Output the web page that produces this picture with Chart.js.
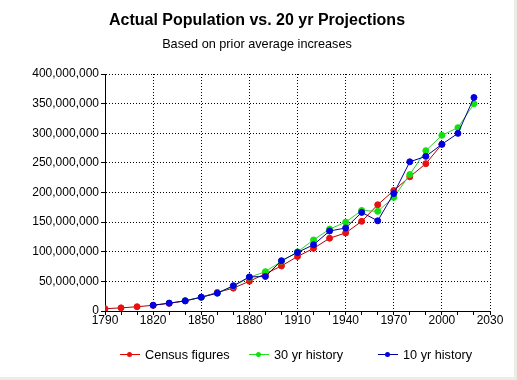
<!DOCTYPE html>
<html>
<head>
<meta charset="utf-8">
<script src="https://cdn.jsdelivr.net/npm/chart.js@4.4.1/dist/chart.umd.min.js"></script>
<style>
html,body{margin:0;padding:0;background:#ecebe4;}
canvas{display:block;background:#ffffff;}
</style>
</head>
<body>
<canvas id="c" width="514" height="377"></canvas>
<script>
// Data (population in millions)
const years = [1790,1800,1810,1820,1830,1840,1850,1860,1870,1880,1890,1900,1910,1920,1930,1940,1950,1960,1970,1980,1990,2000,2010,2020];
const censusFigures = [3.9,5.3,7.2,9.6,12.9,17.1,23.2,31.4,38.6,50.2,62.9,76.0,92.0,105.7,122.8,131.7,151.3,179.3,203.3,226.5,248.7,281.4,null,null];
const history30yr = [null,null,null,null,null,17.5,23.3,30.4,41.8,56.8,66.4,84.0,99.9,119.9,138.2,150.0,169.7,168.2,191.8,230.3,270.6,296.5,309.4,349.8];
const history10yr = [null,null,null,9.8,13.3,17.1,23.3,30.0,42.7,57.5,58.3,84.9,98.8,111.8,135.0,140.1,166.4,152.2,198.2,251.8,261.0,281.4,299.8,360.3];
const seriesNames = ['Census figures','30 yr history','10 yr history'];
const xLabelYears = [1790,1820,1850,1880,1910,1940,1970,2000,2030];
const yTickValues = [0,50,100,150,200,250,300,350,400];

const FONT = '"Liberation Sans", Arial, sans-serif';
Chart.defaults.color = '#000';
Chart.defaults.font.family = FONT;

function pts(arr){ return years.map((y,i)=>({x:y,y:arr[i]})).filter(p=>p.y!==null); }

const customLegend = {
  id:'customLegend',
  afterDraw(chart){
    const ctx = chart.ctx;
    const xs = [120,249,378];
    const y = 354.5;
    chart.data.datasets.forEach((ds,i)=>{
      ctx.save();
      ctx.strokeStyle = ds.legendLine;
      ctx.lineWidth = 1;
      ctx.beginPath(); ctx.moveTo(xs[i], y); ctx.lineTo(xs[i]+20, y); ctx.stroke();
      ctx.fillStyle = ds.pointBackgroundColor;
      ctx.beginPath(); ctx.arc(xs[i]+9.5, y, 2.5, 0, Math.PI*2); ctx.fill();
      ctx.fillStyle = '#000';
      ctx.font = '12.7px ' + FONT;
      ctx.textBaseline = 'middle';
      ctx.textAlign = 'left';
      ctx.fillText(ds.label, xs[i]+25, y+1);
      ctx.restore();
    });
  }
};

const mk = (label, data, line, pt, order, legendLine) => ({
  label, data: pts(data), borderColor: line, backgroundColor: pt,
  pointBackgroundColor: pt, pointBorderColor: pt, pointRadius: 3, pointBorderWidth: 1,
  borderWidth: 1, tension: 0, fill: false, order, legendLine
});

new Chart(document.getElementById('c'), {
  type: 'line',
  data: {
    datasets: [
      mk(seriesNames[0], censusFigures, '#b00000', '#e81010', 3, '#e00000'),
      mk(seriesNames[1], history30yr, '#30d030', '#10e010', 2, '#20e020'),
      mk(seriesNames[2], history10yr, '#000090', '#0000e0', 1, '#0000a0')
    ]
  },
  options: {
    responsive: false,
    animation: false,
    layout: { padding: { left: 0, right: 0, top: 0, bottom: 51.6 } },
    plugins: {
      legend: { display: false },
      tooltip: { enabled: false },
      title: { display: true, text: 'Actual Population vs. 20 yr Projections', color: '#000',
               font: { size: 16, weight: 'bold', family: FONT, lineHeight: 1.2 }, padding: { top: 11, bottom: 6.2 } },
      subtitle: { display: true, text: 'Based on prior average increases', color: '#000',
               font: { size: 12.7, family: FONT, lineHeight: 1.2 }, padding: { top: 0, bottom: 22.36 } }
    },
    scales: {
      x: {
        type: 'linear', min: xLabelYears[0], max: xLabelYears[xLabelYears.length-1],
        grid: {
          color: (c) => (c.tick && xLabelYears.includes(c.tick.value)) ? '#000' : 'rgba(0,0,0,0)',
          tickColor: '#000', tickLength: 4, lineWidth: 1
        },
        border: { display: true, color: '#000', width: 1, dash: [1,2] },
        ticks: {
          stepSize: 10, autoSkip: false, maxRotation: 0, padding: -2, color: '#000',
          font: { size: 12, family: FONT },
          callback: (v) => xLabelYears.includes(v) ? String(v) : ''
        }
      },
      y: {
        min: yTickValues[0], max: yTickValues[yTickValues.length-1],
        afterFit(scale){ scale.width = 105; },
        grid: { color: '#000', tickColor: '#000', tickLength: 4, lineWidth: 1 },
        border: { display: true, color: '#000', width: 1, dash: [1,2] },
        ticks: {
          stepSize: 50, padding: 2, color: '#000', font: { size: 12, family: FONT },
          callback: (v) => (v*1000000).toLocaleString('en-US')
        }
      },
      yRight: {
        position: 'right', min: 0, max: 1,
        afterFit(scale){ scale.width = 24; },
        grid: { display: false, drawOnChartArea: false, drawTicks: false },
        border: { display: false },
        ticks: { display: false }
      }
    }
  },
  plugins: [customLegend]
});
</script>
</body>
</html>
